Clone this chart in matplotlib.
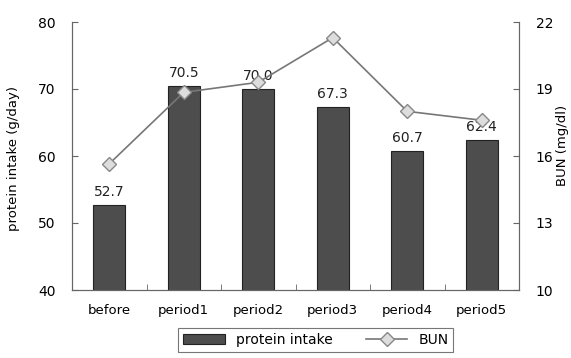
import matplotlib.pyplot as plt
import numpy as np

categories = ["before", "period1", "period2", "period3", "period4", "period5"]
protein_intake = [52.7, 70.5, 70.0, 67.3, 60.7, 62.4]
protein_labels = ["52.7", "70.5", "70.0", "67.3", "60.7", "62.4"]
bun = [15.65, 18.85, 19.3, 21.3, 18.0, 17.6]

fig = plt.figure(figsize=(5.71, 3.58), dpi=100)
ax = fig.add_axes([72/571, 1-290/358, (519-72)/571, (290-22)/358])
x = np.arange(len(categories))

bars = ax.bar(x, protein_intake, width=0.43, color="#4d4d4d", edgecolor="#222222",
              linewidth=0.8, label="protein intake", zorder=2)
for xi, v, lab in zip(x, protein_intake, protein_labels):
    ax.text(xi, v + 0.9, lab, ha="center", va="bottom", fontsize=10, color="#222222")

ax.set_ylim(40, 80)
ax.set_yticks([40, 50, 60, 70, 80])
ax.set_xlim(-0.5, len(categories) - 0.5)
ax.set_xticks(x)
ax.set_xticklabels(categories, fontsize=9.5)
ax.set_xticks(np.arange(0.5, len(categories) - 1, 1.0), minor=True)
ax.tick_params(axis="x", which="major", length=0, pad=10)
ax.tick_params(axis="x", which="minor", length=4, direction="in", color="#666666")
ax.tick_params(axis="y", direction="in", length=4, labelsize=10, pad=12, color="#666666")
ax.set_ylabel("protein intake (g/day)", fontsize=9.5)
ax.yaxis.set_label_coords(-0.117, 0.49)
ax.spines["top"].set_visible(False)
for s in ["left", "bottom", "right"]:
    ax.spines[s].set_color("#666666")

ax2 = ax.twinx()
ax2.plot(x, bun, color="#777777", linewidth=1.2, marker="D", markersize=7,
         markerfacecolor="#dddddd", markeredgecolor="#888888", label="BUN", zorder=3)
ax2.set_ylim(10, 22)
ax2.set_yticks([10, 13, 16, 19, 22])
ax2.tick_params(axis="y", direction="in", length=4, labelsize=10, pad=12, color="#666666")
ax2.set_ylabel("BUN (mg/dl)", fontsize=9.5, rotation=90)
ax2.yaxis.set_label_coords(1.083, 0.54)
ax2.spines["top"].set_visible(False)
for s in ["left", "bottom", "right"]:
    ax2.spines[s].set_color("#666666")

h1, l1 = ax.get_legend_handles_labels()
h2, l2 = ax2.get_legend_handles_labels()
leg = fig.legend(h1 + h2, l1 + l2, ncol=2, loc="upper left",
                 bbox_to_anchor=(178/571, 1-328/358), fontsize=10,
                 frameon=True, fancybox=False, edgecolor="#555555",
                 handlelength=3.0, columnspacing=2.4, borderpad=0.35,
                 borderaxespad=0.0)
leg.get_frame().set_linewidth(0.8)

fig.savefig("out.png", dpi=100)
